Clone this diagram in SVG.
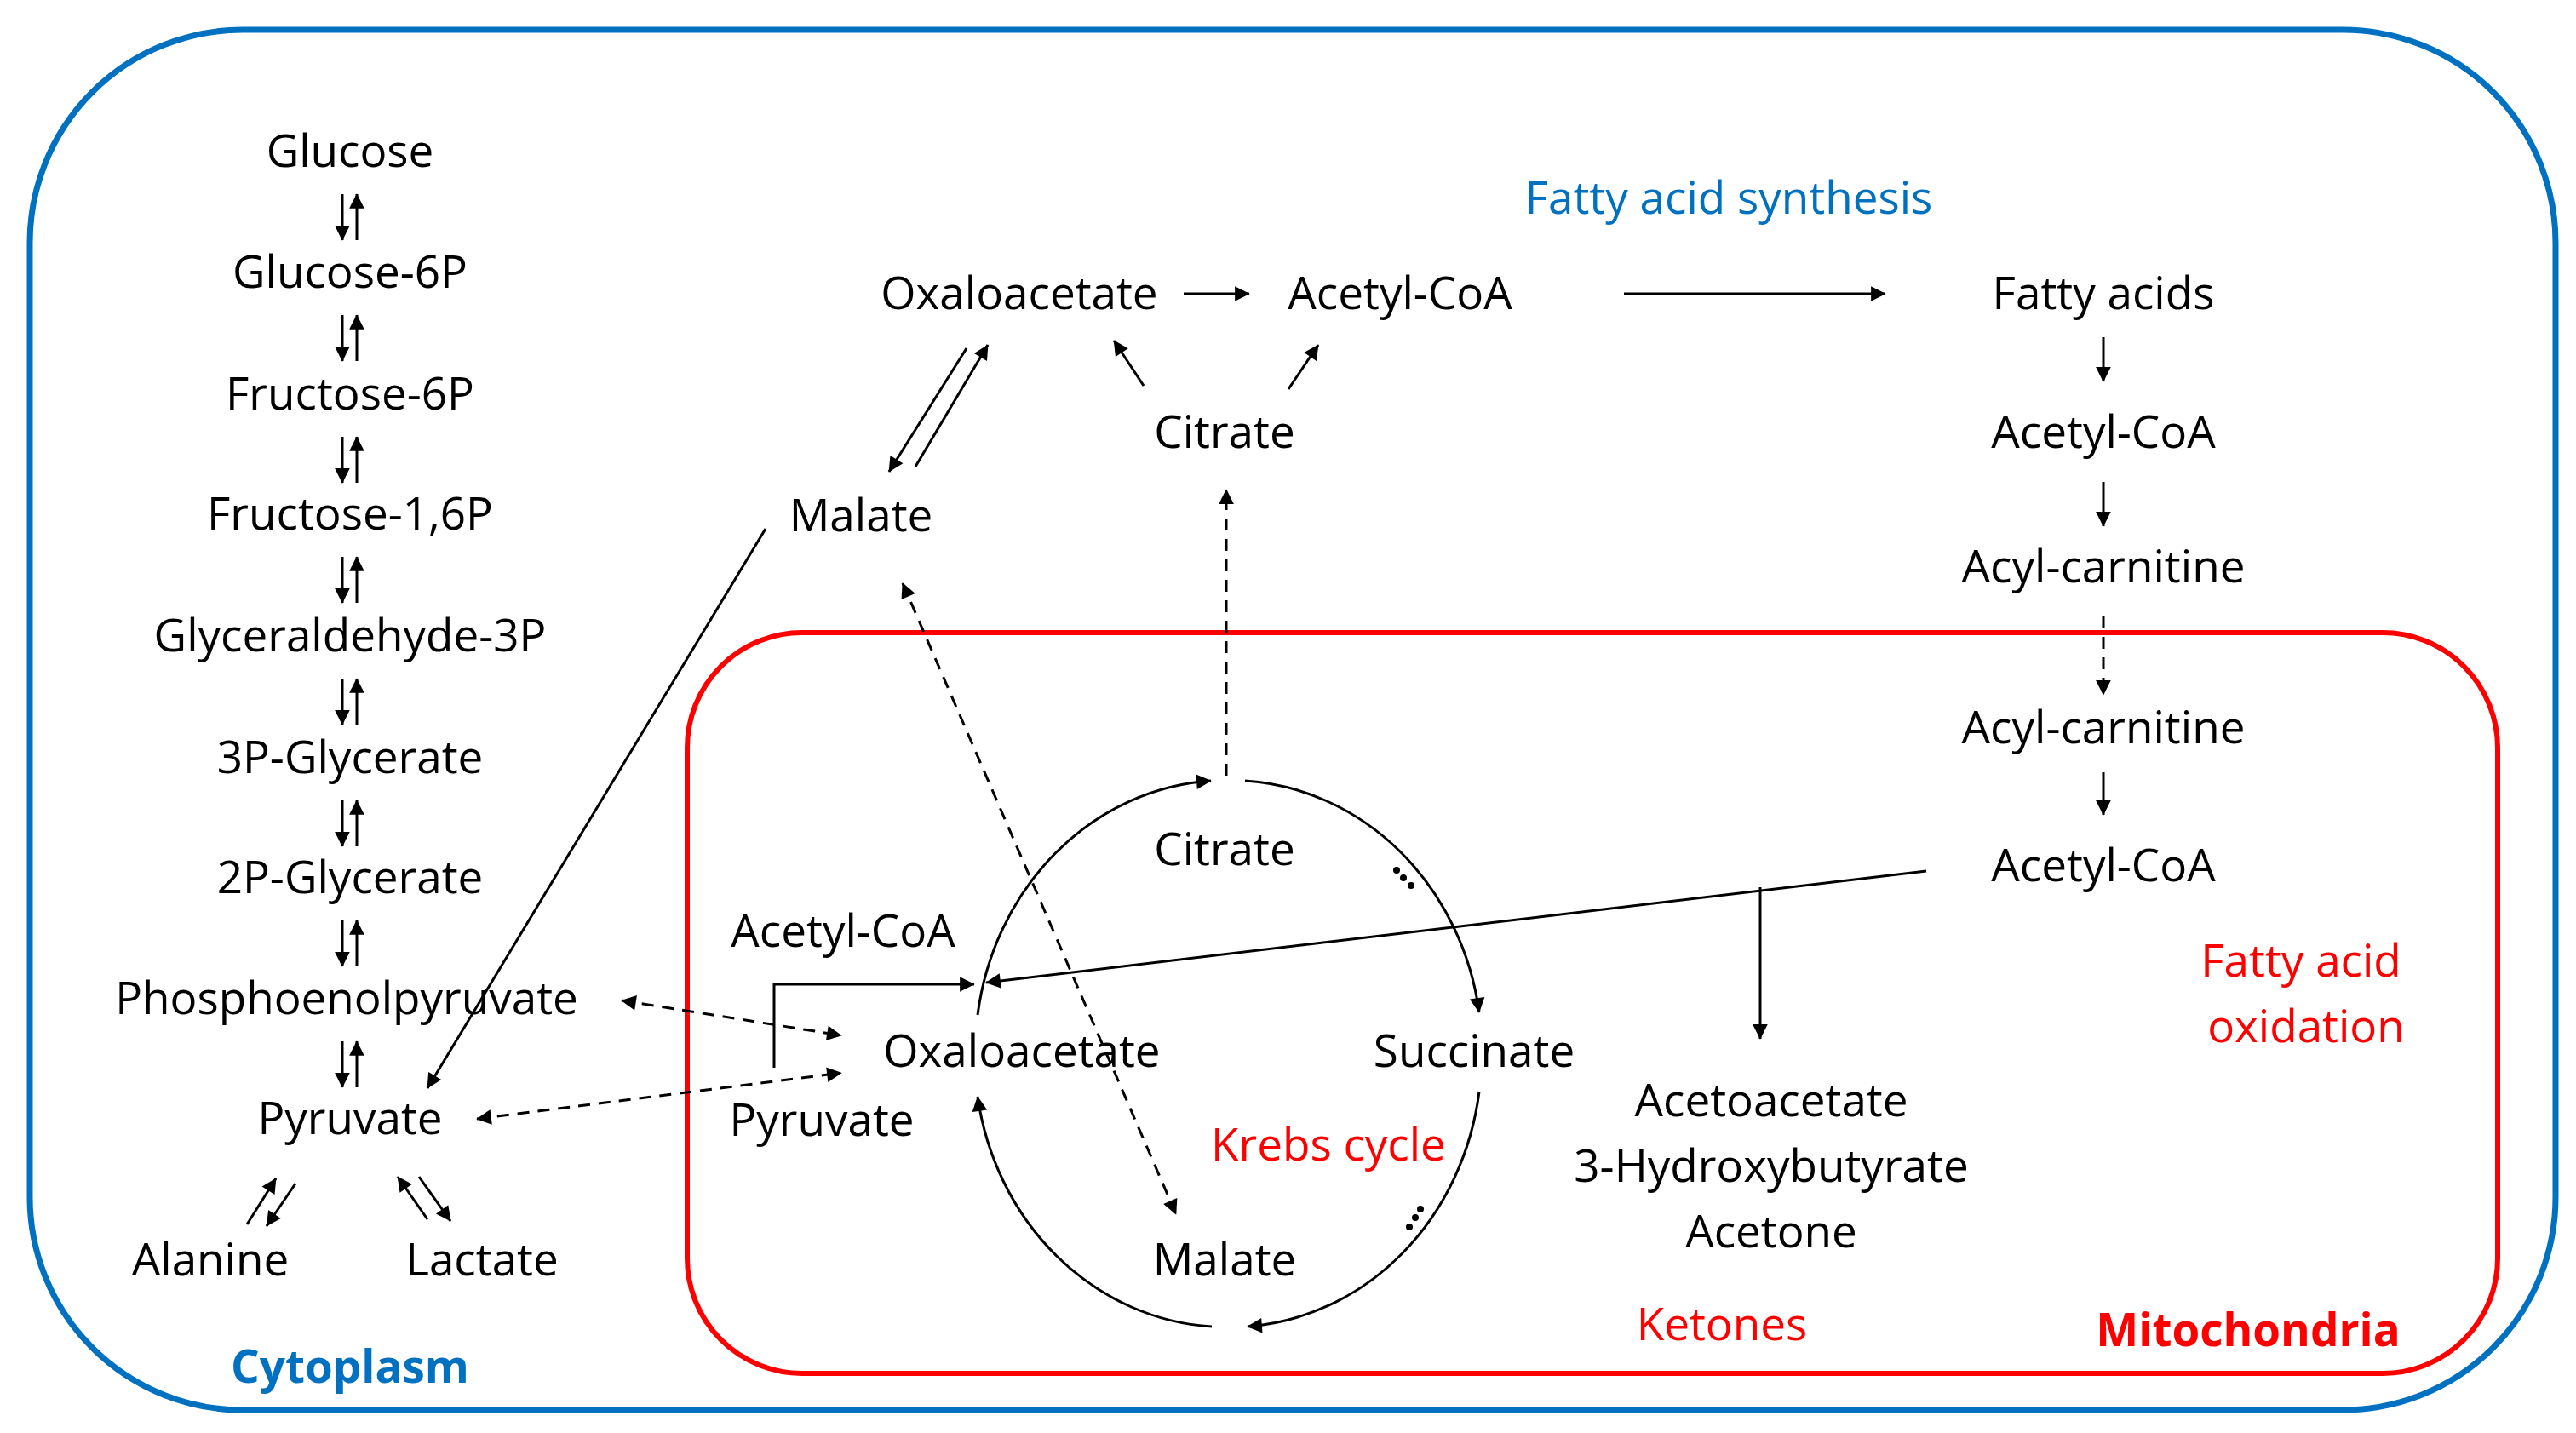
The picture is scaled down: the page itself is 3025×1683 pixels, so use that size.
<svg xmlns="http://www.w3.org/2000/svg" width="3025" height="1683" viewBox="0 0 3025 1683">
<style>
text{font-family:"Open Sans","Liberation Sans",sans-serif;font-size:53px;fill:#000;text-anchor:middle}
.red{fill:#ff0000}.blue{fill:#0070C0}.b{font-weight:bold}
.l{stroke:#000;stroke-width:3;fill:none}
.d{stroke-dasharray:14 10}
.a{marker-end:url(#ah)}.s{marker-start:url(#ahs)}
</style>
<defs>
<marker id="ah" viewBox="0 0 10 10" refX="9" refY="5" markerWidth="8" markerHeight="8" markerUnits="userSpaceOnUse" orient="auto" style="overflow:visible"><path d="M0,0 L10,5 L0,10 z" fill="#000" transform="scale(2.2) translate(-5.5,-2.7)"/></marker>
<marker id="ahs" viewBox="0 0 10 10" refX="1" refY="5" markerWidth="8" markerHeight="8" markerUnits="userSpaceOnUse" orient="auto" style="overflow:visible"><path d="M10,0 L0,5 L10,10 z" fill="#000" transform="scale(2.2) translate(0,-2.7)"/></marker>
</defs>
<rect x="35" y="35" width="2966" height="1621" rx="250" fill="none" stroke="#0070C0" stroke-width="7"/>
<rect x="807" y="743" width="2126" height="870" rx="135" fill="none" stroke="#ff0000" stroke-width="6"/>
<g id="labels">
<text class="blue b" x="411" y="1624">Cytoplasm</text>
<text class="blue" x="2030" y="251">Fatty acid synthesis</text>
<text class="red b" x="2640" y="1581">Mitochondria</text>
<text class="red" x="2022" y="1574">Ketones</text>
<text class="red" x="2702" y="1147">Fatty acid</text>
<text class="red" x="2708" y="1224">oxidation</text>
<text class="red" x="1560" y="1363">Krebs cycle</text>
</g>
<g id="glycolysis">
<text x="411" y="196">Glucose</text>
<text x="411" y="338">Glucose-6P</text>
<text x="411" y="481">Fructose-6P</text>
<text x="411" y="622">Fructose-1,6P</text>
<text x="411" y="765">Glyceraldehyde-3P</text>
<text x="411" y="908">3P-Glycerate</text>
<text x="411" y="1049">2P-Glycerate</text>
<text x="407" y="1191">Phosphoenolpyruvate</text>
<text x="411" y="1332">Pyruvate</text>
<text x="247" y="1498">Alanine</text>
<text x="566" y="1498">Lactate</text>
</g>
<g id="top">
<text x="1197" y="363">Oxaloacetate</text>
<text x="1644" y="363">Acetyl-CoA</text>
<text x="2470" y="363">Fatty acids</text>
<text x="1438" y="526">Citrate</text>
<text x="1011" y="624">Malate</text>
<text x="2470" y="526">Acetyl-CoA</text>
<text x="2470" y="684">Acyl-carnitine</text>
<text x="2470" y="873">Acyl-carnitine</text>
<text x="2470" y="1035">Acetyl-CoA</text>
<text x="2080" y="1311">Acetoacetate</text>
<text x="2080" y="1388">3-Hydroxybutyrate</text>
<text x="2080" y="1465">Acetone</text>
</g>
<g id="krebs">
<text x="1438" y="1016">Citrate</text>
<text x="1731" y="1253">Succinate</text>
<text x="1438" y="1498">Malate</text>
<text x="1200" y="1253">Oxaloacetate</text>
<text x="990" y="1112">Acetyl-CoA</text>
<text x="965" y="1334">Pyruvate</text>
<circle cx="1640" cy="1022" r="4"/><circle cx="1648" cy="1031" r="4"/><circle cx="1657" cy="1040" r="4"/>
<circle cx="1668" cy="1420" r="4"/><circle cx="1662" cy="1430" r="4"/><circle cx="1655" cy="1441" r="4"/>
</g>
<g id="connectors">
<path class="l a" d="M402,228V282"/><path class="l a" d="M402,370V424"/><path class="l a" d="M402,513V567"/><path class="l a" d="M402,654V708"/><path class="l a" d="M402,797V851"/><path class="l a" d="M402,940V994"/><path class="l a" d="M402,1081V1135"/><path class="l a" d="M402,1223V1277"/>
<path class="l s" d="M419,228V282"/><path class="l s" d="M419,370V424"/><path class="l s" d="M419,513V567"/><path class="l s" d="M419,654V708"/><path class="l s" d="M419,797V851"/><path class="l s" d="M419,940V994"/><path class="l s" d="M419,1081V1135"/><path class="l s" d="M419,1223V1277"/>
<path class="l a" d="M290,1438L324,1384"/><path class="l a" d="M347,1390L313,1440"/>
<path class="l a" d="M502,1432L467,1382"/><path class="l a" d="M492,1382L529,1434"/>
<path class="l a" d="M1390,345H1467"/><path class="l a" d="M1907,345H2214"/>
<path class="l a" d="M1343,453L1308,400"/><path class="l a" d="M1513,457L1548,405"/>
<path class="l a" d="M1135,409L1044,554"/><path class="l a" d="M1075,548L1160,405"/>
<path class="l a" d="M899,621L502,1278"/>
<path class="l d a" d="M1440,911V575"/>
<path class="l d a s" d="M1060,685L1381,1426"/>
<path class="l d a s" d="M730,1175L988,1216"/>
<path class="l d a s" d="M560,1314L988,1260"/>
<path class="l a" d="M2470,396V448"/><path class="l a" d="M2470,566V618"/>
<path class="l d a" d="M2470,724V816"/><path class="l a" d="M2470,907V957"/>
<path class="l a" d="M2262,1023L1158,1154"/>
<path class="l a" d="M2067,1042V1220"/>
<path class="l a" d="M909,1254V1156H1144"/>
<path class="l a" d="M1148,1192A295 320 0 0 1 1422,917"/>
<path class="l a" d="M1462,917A295 320 0 0 1 1737,1189"/>
<path class="l a" d="M1737,1282A295 320 0 0 1 1465,1558"/>
<path class="l a" d="M1423,1558A295 320 0 0 1 1148,1288"/>
</g>
</svg>
